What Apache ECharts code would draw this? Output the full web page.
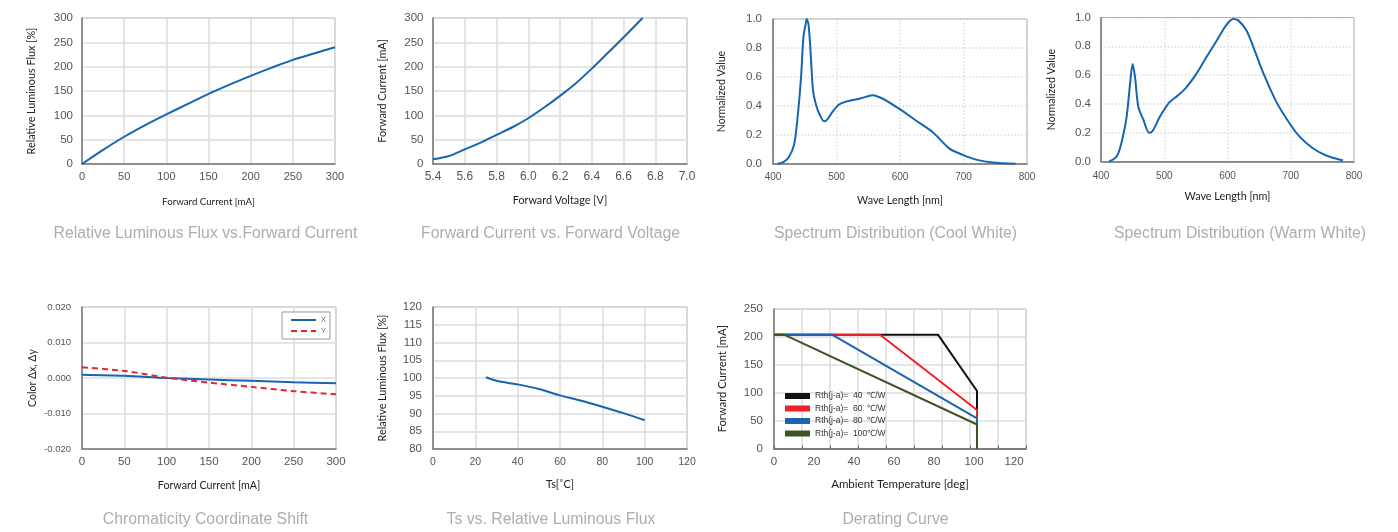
<!DOCTYPE html>
<html><head><meta charset="utf-8">
<script src="https://cdn.jsdelivr.net/npm/echarts@6.0.0/dist/echarts.min.js"></script>
<style>html,body{margin:0;padding:0;background:#fff}#c{width:1398px;height:532px}</style>
</head><body><div id="c"></div>
<script>
// ---- Data ----
const fluxCurrent = [0, 25, 50, 75, 100, 125, 150, 175, 200, 225, 250, 275, 300];
const fluxRelative = [0, 29, 56, 80, 102, 123, 144, 163, 181, 198, 214, 227, 240];

const fvVoltage = [5.4, 5.5, 5.6, 5.7, 5.8, 5.9, 6.0, 6.1, 6.2, 6.3, 6.4, 6.5, 6.6, 6.72];
const fvCurrent = [9.6, 16.5, 30, 44, 60, 75.5, 94, 116, 140, 166, 196, 228, 260, 300];

const coolWavelength = [407, 417, 425, 433, 438, 444, 448, 451.6, 453, 456, 459.5, 463, 468, 474, 480.5, 486, 493.7, 504, 515, 530.5, 546, 557, 573, 599, 625, 652, 678, 699, 720, 746, 782];
const coolValue = [0, 0.014, 0.048, 0.13, 0.29, 0.59, 0.88, 0.97, 1.0, 0.96, 0.75, 0.51, 0.405, 0.336, 0.295, 0.31, 0.36, 0.41, 0.43, 0.445, 0.463, 0.475, 0.45, 0.38, 0.30, 0.217, 0.106, 0.063, 0.03, 0.01, 0.002];

const warmWavelength = [413, 422, 427, 434, 440.5, 446, 450, 453.7, 459, 467, 476, 481.6, 493, 508, 522, 535, 551, 567, 583, 598, 609, 617, 630, 643, 656, 677, 698, 714, 735, 756, 782.6];
const warmValue = [0, 0.023, 0.053, 0.16, 0.31, 0.54, 0.677, 0.59, 0.38, 0.29, 0.2, 0.212, 0.31, 0.41, 0.46, 0.515, 0.61, 0.727, 0.84, 0.947, 0.99, 0.98, 0.91, 0.77, 0.62, 0.416, 0.266, 0.173, 0.092, 0.042, 0.007];

const shiftCurrent = [0, 50, 100, 150, 200, 250, 300];
const shiftX = [0.0009, 0.0006, 0.0000, -0.0004, -0.0008, -0.0012, -0.0015];
const shiftY = [0.0030, 0.0020, 0.0001, -0.0013, -0.0025, -0.0037, -0.0046];

const tsTemp = [25, 30, 40, 50, 60, 70, 80, 90, 100];
const tsFlux = [100.2, 99.2, 98.2, 96.9, 95.1, 93.6, 91.9, 90.1, 88.1];

const rthNames = ['Rth(j-a)=  40  \u2103/W', 'Rth(j-a)=  60  \u2103/W', 'Rth(j-a)=  80  \u2103/W', 'Rth(j-a)=  100\u2103/W'];
const deratingTemp = [
  [0, 82, 101.5, 101.5],
  [0, 53, 101.5, 101.5],
  [0, 29, 101.5, 101.5],
  [0, 5, 101.5, 101.5]
];
const deratingCurrent = [
  [204, 204, 103, 0],
  [204, 204, 69, 0],
  [204, 204, 54, 0],
  [204, 204, 43, 0]
];
const deratingColors = ['#111111', '#ee2229', '#1a64b0', '#3e5426'];

const chartTitles = [
  'Relative Luminous Flux vs.Forward Current',
  'Forward Current vs. Forward Voltage',
  'Spectrum Distribution (Cool White)',
  'Spectrum Distribution (Warm White)',
  'Chromaticity Coordinate Shift',
  'Ts vs. Relative Luminous Flux',
  'Derating Curve'
];

// ---- Helpers ----
const zip = (a, b) => a.map((v, i) => [v, b[i]]);
const BLUE = '#1565b0';
const gridDefs = [
  { left: 82, top: 18, width: 253, height: 146 },
  { left: 433, top: 18, width: 254, height: 146 },
  { left: 773, top: 19, width: 254, height: 145 },
  { left: 1101, top: 17.5, width: 253, height: 144 },
  { left: 82, top: 307, width: 254, height: 142 },
  { left: 433, top: 307, width: 254, height: 142 },
  { left: 774, top: 309, width: 252, height: 139.5 }
];
const titlePos = [[205.5, 233.5], [550.5, 233.5], [895.5, 233.5], [1240, 233.5], [205.5, 520], [551, 520], [895.5, 520]];

function axis(gridIndex, o) {
  return {
    type: 'value',
    gridIndex: gridIndex,
    position: o.position,
    min: o.min, max: o.max, interval: o.interval,
    name: o.name || '',
    nameLocation: 'middle',
    nameGap: o.nameGap,
    nameTextStyle: { fontFamily: 'Lato', fontSize: o.nameSize || 10.8, color: '#222' },
    axisLine: { show: true, onZero: false, lineStyle: { color: '#777', width: 1.5 } },
    axisTick: o.tick ? { show: true, inside: true, length: 3, lineStyle: { color: '#666' } } : { show: false },
    axisLabel: o.noLabel ? { show: false } : {
      show: true, color: '#555', fontFamily: 'Liberation Sans', fontSize: o.labelSize || 11.5,
      margin: o.margin || 8, formatter: o.formatter, showMaxLabel: true, showMinLabel: true, hideOverlap: false
    },
    splitLine: o.noSplit ? { show: false } : { show: true, lineStyle: { color: '#dcdcdc', width: 1.5, type: o.dotted ? [1.5, 2] : 'solid' } }
  };
}
const fix = n => v => v.toFixed(n);

const option = {
  animation: false,
  backgroundColor: '#fff',
  grid: gridDefs.map(g => Object.assign({ show: true, borderColor: '#a0a0a0', borderWidth: 1, containLabel: false, outerBoundsMode: 'none' }, g)),
  xAxis: [
    axis(0, { min: 0, max: 300, interval: 50, name: 'Forward Current [mA]', nameGap: 33, nameSize: 9.7, labelSize: 11, margin: 7 }),
    axis(1, { min: 5.4, max: 7.0, interval: 0.2, name: 'Forward Voltage [V]', nameGap: 31, labelSize: 12, margin: 7, formatter: fix(1) }),
    axis(2, { min: 400, max: 800, interval: 100, name: 'Wave Length [nm]', nameGap: 31, labelSize: 10, margin: 8, dotted: true }),
    axis(3, { min: 400, max: 800, interval: 100, name: 'Wave Length [nm]', nameGap: 30, labelSize: 10, margin: 10, dotted: true }),
    axis(4, { min: 0, max: 300, interval: 50, name: 'Forward Current [mA]', nameGap: 31, nameSize: 10.7, labelSize: 11.5, margin: 7 }),
    axis(5, { min: 0, max: 120, interval: 20, name: 'Ts[\u02DAC]', nameGap: 30, labelSize: 10.5, margin: 8 }),
    axis(6, { min: 0, max: 126, interval: 20, name: 'Ambient Temperature [deg]', nameGap: 30, nameSize: 11.5, labelSize: 11.5, margin: 7, noSplit: true,
      position: 'bottom', formatter: v => (v % 20 === 0 ? String(v) : '') }),
    axis(6, { min: 0, max: 126, interval: 14, noLabel: true, tick: true, position: 'bottom' })
  ],
  yAxis: [
    axis(0, { min: 0, max: 300, interval: 50, name: 'Relative Luminous Flux [%]', nameGap: 45, margin: 9 }),
    axis(1, { min: 0, max: 300, interval: 50, name: 'Forward Current [mA]', nameGap: 45, margin: 9.5 }),
    axis(2, { min: 0, max: 1, interval: 0.2, name: 'Normalized Value', nameGap: 46, nameSize: 10.6, margin: 11, formatter: fix(1), dotted: true }),
    axis(3, { min: 0, max: 1, interval: 0.2, name: 'Normalized Value', nameGap: 44, nameSize: 10.6, margin: 10, formatter: fix(1), dotted: true }),
    axis(4, { min: -0.02, max: 0.02, interval: 0.01, name: 'Color \u0394x, \u0394y', nameGap: 44, nameSize: 10.5, labelSize: 9.5, margin: 11, formatter: fix(3) }),
    axis(5, { min: 80, max: 120, interval: 5, name: 'Relative Luminous Flux [%]', nameGap: 45, margin: 11 }),
    axis(6, { min: 0, max: 250, interval: 50, name: 'Forward Current [mA]', nameGap: 46, nameSize: 11.2, margin: 11 })
  ],
  legend: [
    {
      data: ['X', 'Y'], left: 282, top: 312, orient: 'vertical', selectedMode: false,
      itemWidth: 25, itemHeight: 8, itemGap: 3, padding: [4, 4, 4, 8],
      itemStyle: { opacity: 0 },
      borderColor: '#999', borderWidth: 1, backgroundColor: '#fff',
      textStyle: { fontSize: 7.5, color: '#666', fontFamily: 'Liberation Sans' }
    },
    {
      data: rthNames, left: 785, top: 391, orient: 'vertical', selectedMode: false, icon: 'rect',
      itemWidth: 25, itemHeight: 6, itemGap: 2.5, padding: 0,
      textStyle: { fontSize: 8.5, color: '#333', fontFamily: 'Liberation Sans', lineHeight: 10 }
    }
  ],
  series: [
    { type: 'line', xAxisIndex: 0, yAxisIndex: 0, data: zip(fluxCurrent, fluxRelative), smooth: 0.3, symbol: 'none', lineStyle: { color: BLUE, width: 2 } },
    { type: 'line', xAxisIndex: 1, yAxisIndex: 1, data: zip(fvVoltage, fvCurrent), smooth: 0.3, symbol: 'none', lineStyle: { color: BLUE, width: 2 } },
    { type: 'line', xAxisIndex: 2, yAxisIndex: 2, data: zip(coolWavelength, coolValue), smooth: 0.3, symbol: 'none', lineStyle: { color: BLUE, width: 2 } },
    { type: 'line', xAxisIndex: 3, yAxisIndex: 3, data: zip(warmWavelength, warmValue), smooth: 0.3, symbol: 'none', lineStyle: { color: BLUE, width: 2 } },
    { name: 'X', type: 'line', xAxisIndex: 4, yAxisIndex: 4, data: zip(shiftCurrent, shiftX), smooth: 0.3, symbol: 'none', color: BLUE, lineStyle: { color: BLUE, width: 2 } },
    { name: 'Y', type: 'line', xAxisIndex: 4, yAxisIndex: 4, data: zip(shiftCurrent, shiftY), smooth: 0.3, symbol: 'none', color: '#e3262f', lineStyle: { color: '#e3262f', width: 2, type: [6, 4] } },
    { type: 'line', xAxisIndex: 5, yAxisIndex: 5, data: zip(tsTemp, tsFlux), smooth: 0.3, symbol: 'none', lineStyle: { color: BLUE, width: 2 } }
  ].concat(rthNames.map((n, i) => ({
    name: n, type: 'line', xAxisIndex: 6, yAxisIndex: 6, data: zip(deratingTemp[i], deratingCurrent[i]),
    symbol: 'none', color: deratingColors[i], lineStyle: { color: deratingColors[i], width: 2 }, z: 2 + i
  }))),
  graphic: chartTitles.map((t, i) => ({
    type: 'text', x: titlePos[i][0], y: titlePos[i][1], silent: true,
    style: { text: t, fill: '#a9aeb3', font: '15.8px "Liberation Sans"', textAlign: 'center', textVerticalAlign: 'middle' }
  }))
};

const chart = echarts.init(document.getElementById('c'), null, { renderer: 'canvas' });
chart.setOption(option);
</script></body></html>
